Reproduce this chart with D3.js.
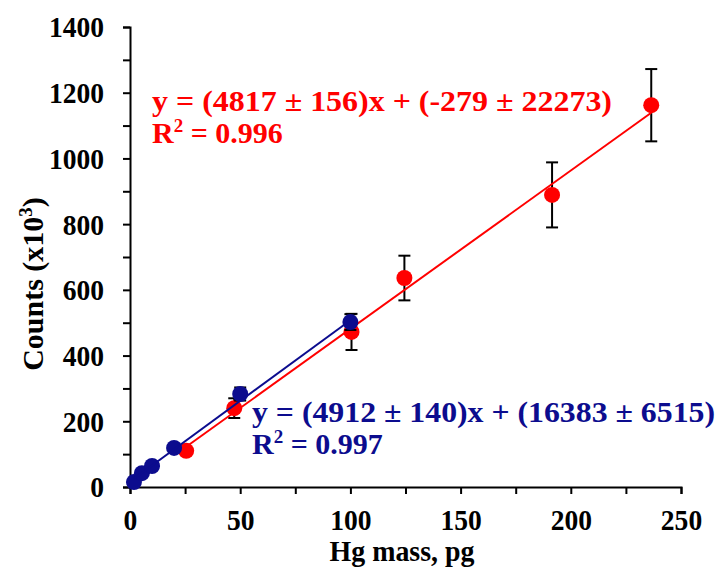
<!DOCTYPE html>
<html>
<head>
<meta charset="utf-8">
<script src="https://cdn.jsdelivr.net/npm/d3@7"></script>
<style>
  body { margin: 0; background: #fff; }
  text { font-family: "Liberation Serif", "Times New Roman", serif; font-weight: bold; }
</style>
</head>
<body>
<svg width="721" height="569"></svg>
<script>
// Hg mass (pg) vs counts (x10^3)
var blueX = [1.8, 5.4, 10, 20, 50, 100];
var blueY = [15, 42, 64, 119, 283, 502];
var blueErr = [0, 0, 0, 0, 20, 24];

var redX = [25.5, 47.3, 100.5, 124.5, 191.5, 236.5];
var redY = [110, 240, 472, 636, 889, 1162];
var redErr = [0, 30, 55, 68, 99, 110];

var blueFit = { slope: 4.912, icpt: 16.383 };
var redFit = { slope: 4.817, icpt: -0.279 };

var xTicks = [0, 50, 100, 150, 200, 250];
var yTicks = [0, 200, 400, 600, 800, 1000, 1200, 1400];

var svg = d3.select("svg");
var blue = "#0c0c8e", red = "#ff0000";

var x = d3.scaleLinear().domain([0, 250]).range([130, 681]);
var y = d3.scaleLinear().domain([0, 1400]).range([487, 27]);

// squeeze or stretch text horizontally
function squeeze(sel, k) {
  sel.each(function() {
    var w = this.getComputedTextLength();
    if (w > 0) d3.select(this).attr("textLength", w * k).attr("lengthAdjust", "spacingAndGlyphs");
  });
}

// axes
var xAxis = d3.axisBottom(x).tickValues(d3.range(0, 251, 25)).tickSize(7).tickFormat(function(d) {
  return xTicks.indexOf(d) >= 0 ? d : "";
});
var yAxis = d3.axisLeft(y).tickValues(d3.range(0, 1401, 100)).tickSize(7).tickFormat(function(d) {
  return yTicks.indexOf(d) >= 0 ? d : "";
});

var gx = svg.append("g").attr("transform", "translate(0," + y(0) + ")").call(xAxis);
var gy = svg.append("g").attr("transform", "translate(" + x(0) + ",0)").call(yAxis);
[gx, gy].forEach(function(g) {
  g.select(".domain").attr("stroke", "#000").attr("stroke-width", 2);
  g.selectAll(".tick line").attr("stroke", "#000").attr("stroke-width", 2);
  g.selectAll(".tick text").attr("fill", "#000").style("font-size", "29px")
    .style("font-family", "Liberation Serif").style("font-weight", "bold");
});
gx.selectAll(".tick text").attr("dy", null).attr("y", 43);
gy.selectAll(".tick text").attr("x", -26).attr("dy", "0.34em");
squeeze(gx.selectAll(".tick text"), 0.95);
squeeze(gy.selectAll(".tick text"), 0.95);

// axis titles
var xt = svg.append("text").attr("x", 402).attr("y", 561).attr("text-anchor", "middle")
  .style("font-size", "30px").text("Hg mass, pg");
squeeze(xt, 0.93);
var yt = svg.append("text").attr("transform", "translate(43,284) rotate(-90)")
  .attr("text-anchor", "middle").style("font-size", "30px");
yt.append("tspan").text("Counts  (x10");
yt.append("tspan").attr("dy", -11).style("font-size", "19px").text("3");
yt.append("tspan").attr("dy", 11).text(")");

// fit lines
function fitLine(xs, fit, color) {
  var x0 = d3.min(xs), x1 = d3.max(xs);
  svg.append("line")
    .attr("x1", x(x0)).attr("y1", y(fit.slope * x0 + fit.icpt))
    .attr("x2", x(x1)).attr("y2", y(fit.slope * x1 + fit.icpt))
    .attr("stroke", color).attr("stroke-width", 2);
}

function series(xs, ys, errs, color) {
  var data = xs.map(function(d, i) { return { x: d, y: ys[i], e: errs[i] }; });
  var g = svg.append("g");
  var eb = g.selectAll(".eb").data(data.filter(function(d) { return d.e > 0; })).enter().append("g")
    .attr("stroke", "#000").attr("stroke-width", 2);
  eb.append("line").attr("x1", function(d) { return x(d.x); }).attr("x2", function(d) { return x(d.x); })
    .attr("y1", function(d) { return y(d.y - d.e); }).attr("y2", function(d) { return y(d.y + d.e); });
  eb.append("line").attr("x1", function(d) { return x(d.x) - 6; }).attr("x2", function(d) { return x(d.x) + 6; })
    .attr("y1", function(d) { return y(d.y + d.e); }).attr("y2", function(d) { return y(d.y + d.e); });
  eb.append("line").attr("x1", function(d) { return x(d.x) - 6; }).attr("x2", function(d) { return x(d.x) + 6; })
    .attr("y1", function(d) { return y(d.y - d.e); }).attr("y2", function(d) { return y(d.y - d.e); });
  g.selectAll("circle").data(data).enter().append("circle")
    .attr("cx", function(d) { return x(d.x); }).attr("cy", function(d) { return y(d.y); })
    .attr("r", 8).attr("fill", color);
}

series(redX, redY, redErr, red);
fitLine(redX, redFit, red);
series(blueX, blueY, blueErr, blue);
fitLine(blueX, blueFit, blue);

// equations
function eq(x0, y0, line, r2, color, w) {
  svg.append("text").attr("x", x0).attr("y", y0).attr("fill", color)
    .style("font-size", "30px").text(line)
    .attr("textLength", w).attr("lengthAdjust", "spacingAndGlyphs");
  var t = svg.append("text").attr("x", x0).attr("y", y0 + 32).attr("fill", color).style("font-size", "30px");
  t.append("tspan").text("R");
  t.append("tspan").attr("dy", -11).style("font-size", "19px").text("2");
  t.append("tspan").attr("dy", 11).text(" = " + r2);
}
eq(152, 111, "y = (4817 \u00b1 156)x + (-279 \u00b1 22273)", "0.996", red, 460);
eq(252, 422, "y = (4912 \u00b1 140)x + (16383 \u00b1 6515)", "0.997", blue, 463);
</script>
</body>
</html>
